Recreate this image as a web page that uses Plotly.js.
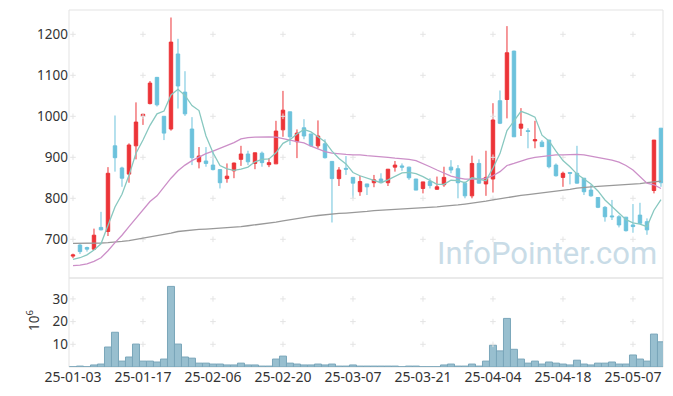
<!DOCTYPE html>
<html>
<head>
<meta charset="utf-8">
<script src="https://cdn.plot.ly/plotly-3.0.1.min.js"></script>
<style>html,body{margin:0;padding:0;background:#fff;}#chart{width:673px;height:396px;}</style>
</head>
<body>
<div id="chart"></div>
<script>
const dates = [
 '25-01-03','25-01-06','25-01-07','25-01-08','25-01-09','25-01-10','25-01-13','25-01-14','25-01-15','25-01-16',
 '25-01-17','25-01-20','25-01-21','25-01-22','25-01-23','25-01-24','25-01-31','25-02-03','25-02-04','25-02-05',
 '25-02-06','25-02-07','25-02-10','25-02-11','25-02-12','25-02-13','25-02-14','25-02-17','25-02-18','25-02-19',
 '25-02-20','25-02-21','25-02-24','25-02-25','25-02-26','25-02-27','25-02-28','25-03-04','25-03-05','25-03-06',
 '25-03-07','25-03-10','25-03-11','25-03-12','25-03-13','25-03-14','25-03-17','25-03-18','25-03-19','25-03-20',
 '25-03-21','25-03-24','25-03-25','25-03-26','25-03-27','25-03-28','25-03-31','25-04-01','25-04-02','25-04-03',
 '25-04-04','25-04-07','25-04-08','25-04-09','25-04-10','25-04-11','25-04-14','25-04-15','25-04-16','25-04-17',
 '25-04-18','25-04-21','25-04-22','25-04-23','25-04-24','25-04-25','25-04-28','25-04-29','25-04-30','25-05-02',
 '25-05-07','25-05-08','25-05-09','25-05-12','25-05-13'
];
const openP = [659,686,680,676,729,719,928,874,859,928,1001,1031,1095,1000,969,1152,1059,969,889,891,
 881,870,848,867,895,908,885,910,882,884,967,1011,938,972,957,928,933,890,848,873,
 851,816,835,838,847,838,876,879,876,847,824,841,822,833,876,872,837,806,885,835,
 847,1038,1041,1159,971,965,940,937,942,881,851,863,861,849,820,802,778,757,755,754,
 735,759,743,819,971];
const highP = [665,688,682,726,767,876,1002,877,934,1034,1006,1086,1096,1000,1241,1189,1110,998,925,925,
 914,870,885,887,928,916,911,914,898,989,1062,1011,968,993,957,990,944,890,876,903,
 851,855,835,857,861,871,891,885,877,847,840,849,853,877,893,881,841,904,895,916,
 1032,1063,1220,1160,1020,971,989,942,942,885,865,863,928,849,833,802,781,796,759,754,
 786,789,751,942,971];
const lowP = [654,664,670,674,722,708,865,828,838,895,979,1029,1024,942,965,1019,1001,881,873,877,
 868,824,838,849,879,881,871,877,876,884,950,930,898,944,926,922,897,741,830,857,
 800,806,808,827,838,830,865,867,845,820,812,824,821,828,861,800,800,800,836,806,
 814,981,995,950,952,922,922,926,873,853,828,834,836,808,804,776,743,747,729,719,
 716,737,711,812,828];
const closeP = [662,670,676,710,723,861,899,849,930,986,1005,1081,1028,959,1181,1074,1006,899,903,885,
 870,838,854,886,908,889,911,887,887,964,1015,950,959,952,928,952,899,848,869,871,
 837,841,828,845,838,871,881,876,850,820,840,831,828,851,869,838,806,885,837,851,
 991,983,1155,950,981,963,943,926,877,855,861,861,837,816,806,778,755,755,735,721,
 731,739,723,942,838];
const ma5 = [651,655,662,674,689,733,779,810,856,910,942,978,1006,1013,1052,1066,1051,1026,1014,952,
 911,880,872,868,871,876,889,895,896,911,934,943,957,968,962,950,938,915,897,884,
 863,855,849,844,838,845,853,862,863,860,853,843,834,834,844,843,838,850,847,843,
 874,909,965,988,1012,1006,998,954,940,915,892,877,859,847,835,818,796,780,763,748,
 740,737,731,771,797];
const ma20 = [636,637,640,646,655,672,692,710,731,751,772,792,806,828,849,867,881,892,901,909,
 915,922,928,936,945,948,949,950,950,949,946,942,938,935,927,920,914,910,908,907,
 906,906,904,903,902,900,898,897,895,892,885,877,869,861,854,850,847,847,846,849,
 855,865,880,885,891,896,900,902,904,906,906,907,907,906,903,900,897,893,888,880,
 869,853,837,833,824];
const ma120 = [690,690,690,690,691,692,693,695,697,700,702,705,708,711,715,719,721,722,724,725,
 726,727,728,729,731,733,735,737,739,742,745,748,751,754,756,758,760,762,763,764,
 765,767,768,770,771,772,772,773,774,775,776,777,779,781,782,784,786,788,790,793,
 796,799,802,804,807,809,811,814,816,818,820,822,825,827,828,829,830,831,833,834,
 835,836,838,840,842];
const volumeM = [0.1,0.4,0.1,0.9,1.3,8.8,15.3,2.6,4.4,10.1,2.6,2.6,2.2,3.5,35.5,10.1,4.4,3.9,1.7,1.7,
 1.3,1.3,0.9,0.9,1.7,0.9,0.9,0.4,0.4,3.5,4.8,1.7,1.3,0.9,0.9,1.3,0.9,1.3,0.4,0.4,
 0.9,0.4,0.4,0.4,0.4,0.4,0.4,0.1,0.4,0.4,0.1,0.1,0.1,0.9,1.3,0.4,0.4,1.3,0.4,2.6,
 9.6,7.1,21.4,7.8,3.5,1.7,2.6,1.3,2.2,1.7,1.3,0.9,3.0,1.3,0.9,1.7,1.7,2.2,1.3,1.3,
 5.3,3.5,2.6,14.5,11.1];
const tickLabels = ['25-01-03','25-01-17','25-02-06','25-02-20','25-03-07','25-03-21','25-04-04','25-04-18','25-05-07'];
const priceTicks = [700,800,900,1000,1100,1200];
const volTicks = [10,20,30];

const RED = '#ec3438', BLUE = '#6cc2dc';
const mainBottom = 0.2493;

const gx = [], gy = [], vx = [], vy = [];
tickLabels.forEach(t => {
  priceTicks.forEach(p => { gx.push(t); gy.push(p); });
  volTicks.forEach(v => { vx.push(t); vy.push(v); });
});
const crossMarker = {symbol:'cross-thin-open', size:4, color:'#e4e4e4', line:{color:'#e4e4e4', width:1}};

const traces = [
  {type:'candlestick', x:dates, open:openP, high:highP, low:lowP, close:closeP, xaxis:'x', yaxis:'y',
   whiskerwidth:0,
   increasing:{line:{color:RED, width:1}, fillcolor:RED},
   decreasing:{line:{color:BLUE, width:1}, fillcolor:BLUE}},
  {type:'bar', x:dates, y:volumeM, xaxis:'x', yaxis:'y2',
   marker:{color:'#98bfcf', line:{color:'#7aa6ba', width:1}}},
  {type:'scatter', mode:'markers', x:gx, y:gy, xaxis:'x', yaxis:'y', marker:crossMarker, hoverinfo:'skip'},
  {type:'scatter', mode:'markers', x:vx, y:vy, xaxis:'x', yaxis:'y2', marker:crossMarker, hoverinfo:'skip'},
  {type:'scatter', mode:'lines', x:dates, y:ma120, xaxis:'x', yaxis:'y', line:{color:'#999999', width:1.3}},
  {type:'scatter', mode:'lines', x:dates, y:ma20, xaxis:'x', yaxis:'y', line:{color:'#cc8fc8', width:1.3}},
  {type:'scatter', mode:'lines', x:dates, y:ma5, xaxis:'x', yaxis:'y', line:{color:'#88c8c0', width:1.3}}
];

const layout = {
  width:673, height:396,
  margin:{l:69, r:10, t:10, b:29},
  paper_bgcolor:'#ffffff', plot_bgcolor:'#ffffff',
  showlegend:false,
  bargap:0,
  font:{family:'"Noto Sans", sans-serif', size:13, color:'#333333'},
  xaxis:{type:'category', categoryorder:'array', categoryarray:dates, range:[-0.57, 84.29],
    tickmode:'array', tickvals:tickLabels, ticktext:tickLabels,
    showgrid:false, zeroline:false, showline:false, ticks:'', anchor:'y2',
    rangeslider:{visible:false}, tickfont:{size:14, color:'#333'}},
  yaxis:{domain:[mainBottom,1], range:[605.6,1259.3], tickvals:priceTicks, showgrid:false, zeroline:false,
    showline:false, ticks:'', tickfont:{size:13.5, color:'#333'}},
  yaxis2:{domain:[0,mainBottom], range:[0,39.2], tickvals:volTicks, showgrid:false, zeroline:false,
    showline:false, ticks:'', tickfont:{size:13.5, color:'#333'}},
  shapes:[
    {type:'rect', xref:'paper', yref:'paper', x0:0, x1:1, y0:mainBottom, y1:1, line:{color:'#e3e3e3', width:1}, layer:'below'},
    {type:'rect', xref:'paper', yref:'paper', x0:0, x1:1, y0:0, y1:mainBottom, line:{color:'#e3e3e3', width:1}, layer:'below'}
  ],
  annotations:[
    {text:'InfoPointer.com', xref:'paper', yref:'paper', x:0.804, y:0.319, xanchor:'center', yanchor:'middle',
     showarrow:false, font:{family:'Roboto, sans-serif', size:31, color:'#c9dce7'}},
    {text:'10<sup>6</sup>', xref:'paper', yref:'paper', x:-0.0606, y:0.129, xanchor:'center', yanchor:'middle',
     textangle:-90, showarrow:false, font:{size:13.5, color:'#333'}}
  ]
};

Plotly.newPlot('chart', traces, layout, {staticPlot:true, displayModeBar:false});
</script>
</body>
</html>
